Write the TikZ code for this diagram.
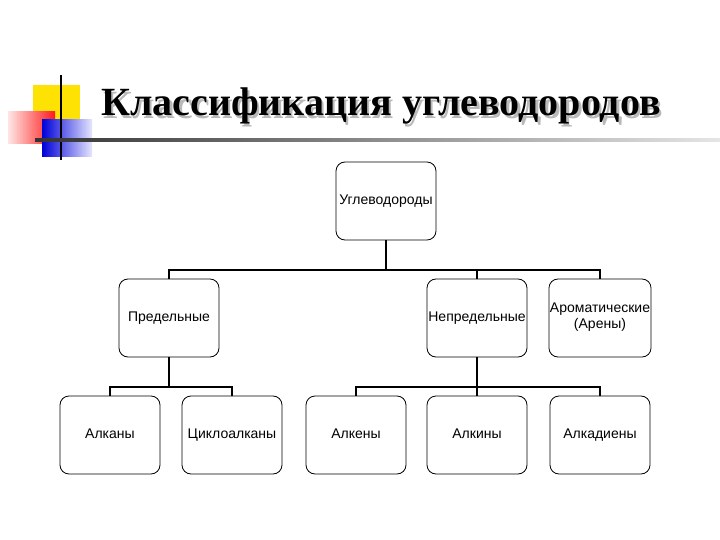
\documentclass[tikz,border=0pt]{standalone}
\usepackage{fontspec}
\setmainfont{Liberation Serif}
\newfontfamily\boxfont{Liberation Sans}
\begin{document}
\begin{tikzpicture}[x=1pt,y=-1pt,
  bx/.style={draw,thick,rounded corners=9pt,minimum width=100pt,minimum height=78pt,inner sep=1pt,font=\boxfont\fontsize{14}{16}\selectfont,align=center,execute at begin node=\strut},
  cn/.style={line width=1.6pt}]
\useasboundingbox (0,0) rectangle (720,540);
% logo
\fill[yellow!85!orange] (33,85) rectangle (80,125);
\shade[left color=red!10,right color=red!90] (8,112) rectangle (55,144);
\shade[left color=blue!85!black,right color=blue!10] (42,120) rectangle (92,157);
\draw[line width=1.8pt] (61,75) -- (61,160);
\shade[left color=black!80,right color=black!10] (35,139) rectangle (720,142);
% title
\node[font=\bfseries\fontsize{40}{46}\selectfont,text=gray!55] at (383.5,108.5) {Классификация углеводородов};
\node[font=\bfseries\fontsize{40}{46}\selectfont] (title) at (381,106) {Классификация углеводородов};
% nodes
\node[bx] (root) at (386,201) {Углеводороды};
\node[bx] (pred) at (169,318) {Предельные};
\node[bx] (nepr) at (477,318) {Непредельные};
\node[bx] (arom) at (600,318) {Ароматические\\\strut(Арены)};
\node[bx] (alkan) at (110,435) {Алканы};
\node[bx] (cyc) at (232,435) {Циклоалканы};
\node[bx] (alken) at (356,435) {Алкены};
\node[bx] (alkin) at (477,435) {Алкины};
\node[bx] (alkad) at (600,435) {Алкадиены};
% connectors
\coordinate (b1) at (386,270);
\draw[cn] (root.south) -- (b1);
\draw[cn] (pred.north) -- (pred.north |- b1) -- (arom.north |- b1) -- (arom.north);
\draw[cn] (nepr.north) -- (nepr.north |- b1);
\coordinate (b2) at (169,387);
\draw[cn] (pred.south) -- (b2);
\draw[cn] (alkan.north) -- (alkan.north |- b2) -- (cyc.north |- b2) -- (cyc.north);
\coordinate (b3) at (477,387);
\draw[cn] (nepr.south) -- (b3);
\draw[cn] (alken.north) -- (alken.north |- b3) -- (alkad.north |- b3) -- (alkad.north);
\draw[cn] (alkin.north) -- (b3);
\end{tikzpicture}
\end{document}
